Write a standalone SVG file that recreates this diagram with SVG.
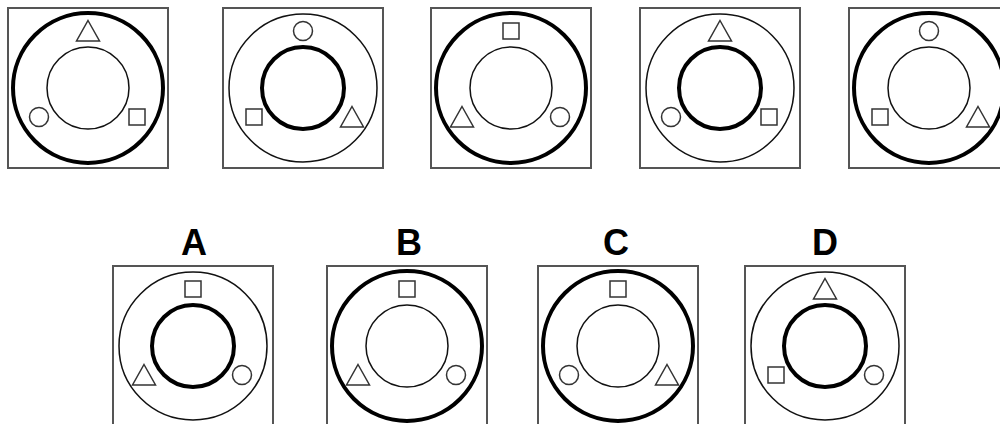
<svg xmlns="http://www.w3.org/2000/svg" xmlns:xlink="http://www.w3.org/1999/xlink" width="1000" height="424" viewBox="0 0 1000 424">
<style>
.box{fill:none;stroke:#555;stroke-width:2}
.thin{fill:none;stroke:#111;stroke-width:1.5}
.thick{fill:none;stroke:#000;stroke-width:4}
.sh{fill:none;stroke:#333;stroke-width:1.5}
.lbl{font-family:"Liberation Sans",Arial,sans-serif;font-weight:bold;font-size:36px;fill:#000;text-anchor:middle}
</style>
<defs>
<polygon id="tri" class="sh" points="0,-10.5 11.5,10 -11.5,10"/>
<rect id="sq" class="sh" x="-8" y="-8" width="16" height="16"/>
<circle id="cir" class="sh" r="9.5"/>
</defs>
<rect width="1000" height="424" fill="#fff"/>
<g id="p1" transform="translate(88,88)">
<rect class="box" x="-80" y="-80" width="160" height="160"/>
<circle class="thick" r="75"/><circle class="thin" r="41"/>
<use xlink:href="#tri" x="0" y="-57"/><use xlink:href="#cir" x="-49" y="29"/><use xlink:href="#sq" x="49" y="29"/>
</g>
<g id="p2" transform="translate(303,88)">
<rect class="box" x="-80" y="-80" width="160" height="160"/>
<circle class="thin" r="74"/><circle class="thick" r="41"/>
<use xlink:href="#cir" x="0" y="-57"/><use xlink:href="#sq" x="-49" y="29"/><use xlink:href="#tri" x="49" y="29"/>
</g>
<g id="p3" transform="translate(511,88)">
<rect class="box" x="-80" y="-80" width="160" height="160"/>
<circle class="thick" r="75"/><circle class="thin" r="41"/>
<use xlink:href="#sq" x="0" y="-57"/><use xlink:href="#tri" x="-49" y="29"/><use xlink:href="#cir" x="49" y="29"/>
</g>
<g id="p4" transform="translate(720,88)">
<rect class="box" x="-80" y="-80" width="160" height="160"/>
<circle class="thin" r="74"/><circle class="thick" r="41"/>
<use xlink:href="#tri" x="0" y="-57"/><use xlink:href="#cir" x="-49" y="29"/><use xlink:href="#sq" x="49" y="29"/>
</g>
<g id="p5" transform="translate(929,88)">
<rect class="box" x="-80" y="-80" width="160" height="160"/>
<circle class="thick" r="75"/><circle class="thin" r="41"/>
<use xlink:href="#cir" x="0" y="-57"/><use xlink:href="#sq" x="-49" y="29"/><use xlink:href="#tri" x="49" y="29"/>
</g>
<g id="optA">
<text class="lbl" x="194" y="255">A</text>
<g transform="translate(193,346)">
<rect class="box" x="-80" y="-80" width="160" height="160"/>
<circle class="thin" r="74"/><circle class="thick" r="41"/>
<use xlink:href="#sq" x="0" y="-57"/><use xlink:href="#tri" x="-49" y="29"/><use xlink:href="#cir" x="49" y="29"/>
</g>
</g>
<g id="optB">
<text class="lbl" x="409" y="255">B</text>
<g transform="translate(407,346)">
<rect class="box" x="-80" y="-80" width="160" height="160"/>
<circle class="thick" r="75"/><circle class="thin" r="41"/>
<use xlink:href="#sq" x="0" y="-57"/><use xlink:href="#tri" x="-49" y="29"/><use xlink:href="#cir" x="49" y="29"/>
</g>
</g>
<g id="optC">
<text class="lbl" x="616" y="255">C</text>
<g transform="translate(618,346)">
<rect class="box" x="-80" y="-80" width="160" height="160"/>
<circle class="thick" r="75"/><circle class="thin" r="41"/>
<use xlink:href="#sq" x="0" y="-57"/><use xlink:href="#cir" x="-49" y="29"/><use xlink:href="#tri" x="49" y="29"/>
</g>
</g>
<g id="optD">
<text class="lbl" x="825" y="255">D</text>
<g transform="translate(825,346)">
<rect class="box" x="-80" y="-80" width="160" height="160"/>
<circle class="thin" r="74"/><circle class="thick" r="41"/>
<use xlink:href="#tri" x="0" y="-57"/><use xlink:href="#sq" x="-49" y="29"/><use xlink:href="#cir" x="49" y="29"/>
</g>
</g>
<g id="connectors"/>
</svg>
